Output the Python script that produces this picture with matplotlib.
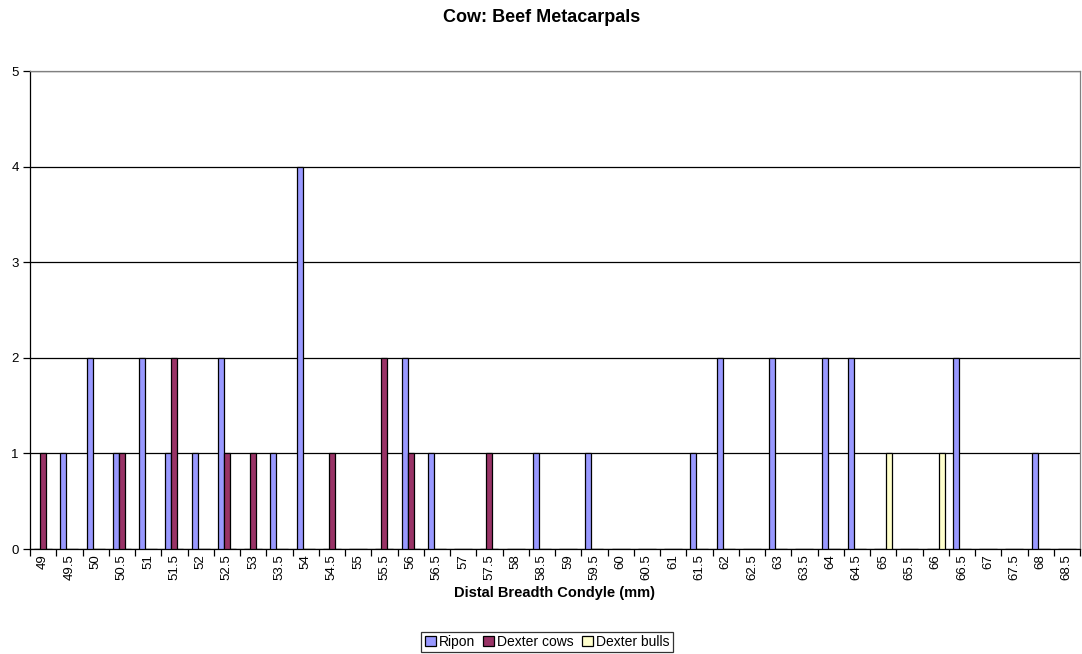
import matplotlib
matplotlib.use("Agg")
import matplotlib.pyplot as plt
import numpy as np

categories = ["49", "49.5", "50", "50.5", "51", "51.5", "52", "52.5", "53", "53.5",
              "54", "54.5", "55", "55.5", "56", "56.5", "57", "57.5", "58", "58.5",
              "59", "59.5", "60", "60.5", "61", "61.5", "62", "62.5", "63", "63.5",
              "64", "64.5", "65", "65.5", "66", "66.5", "67", "67.5", "68", "68.5"]
ripon = [0, 1, 2, 1, 2, 1, 1, 2, 0, 1,
         4, 0, 0, 0, 2, 1, 0, 0, 0, 1,
         0, 1, 0, 0, 0, 1, 2, 0, 2, 0,
         2, 2, 0, 0, 0, 2, 0, 0, 1, 0]
dexter_cows = [1, 0, 0, 1, 0, 2, 0, 1, 1, 0,
               0, 1, 0, 2, 1, 0, 0, 1, 0, 0,
               0, 0, 0, 0, 0, 0, 0, 0, 0, 0,
               0, 0, 0, 0, 0, 0, 0, 0, 0, 0]
dexter_bulls = [0, 0, 0, 0, 0, 0, 0, 0, 0, 0,
                0, 0, 0, 0, 0, 0, 0, 0, 0, 0,
                0, 0, 0, 0, 0, 0, 0, 0, 0, 0,
                0, 0, 1, 0, 1, 0, 0, 0, 0, 0]
series_names = ["Ripon", "Dexter cows", "Dexter bulls"]
colors = ["#9999FF", "#993366", "#FFFFCC"]

plt.rcParams['font.family'] = ['Liberation Sans', 'DejaVu Sans']

fig = plt.figure(figsize=(10.82, 6.54), dpi=100)
ax = fig.add_axes([30/1082, 105/654, 1050/1082, 478/654])

x = np.arange(len(categories))
w = 0.23
for i, (vals, name, c) in enumerate(zip([ripon, dexter_cows, dexter_bulls], series_names, colors)):
    ax.bar(x + (i - 1) * w, vals, width=w, color=c, edgecolor='black', linewidth=0.9,
           label=name, zorder=3)

ax.set_xlim(-0.5, len(categories) - 0.5)
ax.set_ylim(0, 5)
ax.set_yticks(range(0, 6))
ax.yaxis.grid(True, color='black', linewidth=0.9, zorder=0)
ax.set_xticks(x)
ax.set_xticklabels(categories, rotation=90, fontsize=9.5)
ax.tick_params(axis='x', which='major', length=0, pad=4)
ax.set_xticks(np.arange(-0.5, len(categories), 1), minor=True)
ax.tick_params(axis='x', which='minor', length=5, width=0.9, color='black')
ax.tick_params(axis='y', labelsize=9.5, length=5, width=0.9, pad=3)

for s in ['top', 'right']:
    ax.spines[s].set_color('#808080')
    ax.spines[s].set_linewidth(0.9)
ax.spines['left'].set_color('black')
ax.spines['left'].set_linewidth(0.9)
ax.spines['bottom'].set_color('black')
ax.spines['bottom'].set_linewidth(0.9)

ax.set_xlabel("Distal Breadth Condyle (mm)", fontsize=10.5, fontweight='bold', labelpad=4)
fig.text(542/1082, 1 - 18/654, "Cow: Beef Metacarpals", ha='center', va='center',
         fontsize=13, fontweight='bold')

leg = fig.legend(loc='center', bbox_to_anchor=(547/1082, 1 - 642/654), ncol=3,
                 fontsize=10, frameon=True, fancybox=False, edgecolor='black',
                 handlelength=0.8, handleheight=0.8, handletextpad=0.2,
                 columnspacing=0.6, borderpad=0.25, borderaxespad=0)
leg.get_frame().set_linewidth(0.9)

fig.savefig("out.png", dpi=100, facecolor='white')
